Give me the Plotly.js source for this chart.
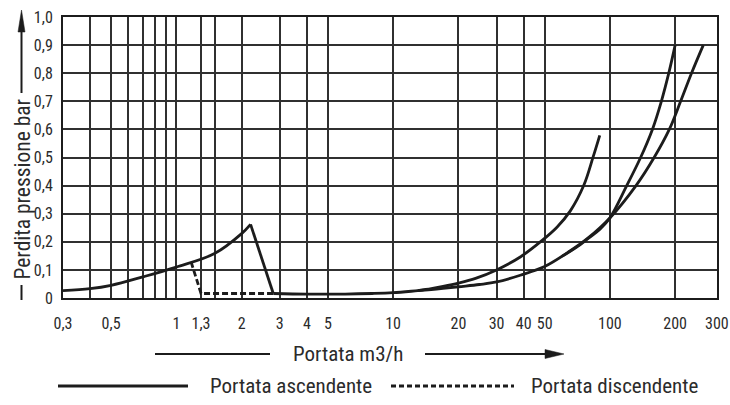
<!DOCTYPE html>
<html>
<head>
<meta charset="utf-8">
<script src="https://cdn.plot.ly/plotly-3.0.1.min.js"></script>
<style>
  html, body { margin: 0; padding: 0; background: #fff; }
  #chart { width: 730px; height: 405px; }
</style>
</head>
<body>
<div id="chart"></div>
<script>
// ---- data ----
// rising branch of the ascending flow curve
const ascLeftX = [0.3, 0.4, 0.5, 0.7, 1.0, 1.5, 2.0, 2.2];
const ascLeftY = [0.026, 0.033, 0.045, 0.075, 0.11, 0.158, 0.229, 0.262];
// sudden drop after the peak
const ascDropX = [2.2, 2.8];
const ascDropY = [0.262, 0.016];
// flat part continuing into the lower (longest) curve
const lowX = [2.8, 4, 6, 8, 10, 13, 15, 17, 20, 25, 30, 38.6, 50, 65.7, 78.6, 100, 132, 160, 188, 212, 238, 269.7];
const lowY = [0.016, 0.014, 0.014, 0.016, 0.019, 0.026, 0.030, 0.034, 0.040, 0.048, 0.057, 0.081, 0.112, 0.168, 0.211, 0.285, 0.40, 0.50, 0.60, 0.70, 0.80, 0.90];
// upper short curve (ends near 90 m3/h)
const upX = [13, 15, 17, 20, 24, 30, 38.6, 48.7, 57, 65.7, 75.8, 83.7, 89.8];
const upY = [0.026, 0.033, 0.041, 0.053, 0.070, 0.10, 0.146, 0.205, 0.252, 0.31, 0.401, 0.502, 0.579];
// steep curve ending at 200 m3/h
const steepX = [60, 70, 80, 90, 100, 119.6, 138.6, 157.1, 172.8, 186.9, 200];
const steepY = [0.148, 0.18, 0.214, 0.245, 0.285, 0.40, 0.50, 0.60, 0.70, 0.80, 0.90];
// descending flow (dashed)
const descX = [1.17, 1.3, 2.8];
const descY = [0.128, 0.016, 0.016];

// axis ticks / gridlines
const xTickVals = [0.3, 0.4, 0.5, 0.6, 0.7, 0.8, 0.9, 1, 1.3, 1.5, 2, 3, 4, 5, 10, 20, 30, 40, 50, 100, 200];
const xTickText = ["0,3", "", "0,5", "", "", "", "", "1", "1,3", "", "2", "3", "4", "5", "10", "20", "30", "40", "50", "100", "200"];
const xEndLabel = "300";
const xRangeEnd = 312;   // right border of the drawing (label "300" sits on it)
const yTickVals = [0, 0.1, 0.2, 0.3, 0.4, 0.5, 0.6, 0.7, 0.8, 0.9, 1.0];
const yTickText = ["0", "0,1", "0,2", "0,3", "0,4", "0,5", "0,6", "0,7", "0,8", "0,9", "1,0"];

const yTitle = "Perdita pressione bar";
const xTitle = "Portata m3/h";
const legendNames = ["Portata ascendente", "Portata discendente"];

// ---- styling ----
const INK = "#1c1c1c";
const GRID = "#303030";
const TXT = "#2b2b2b";
const FONT = "'Liberation Sans Narrow', 'Arial Narrow', 'Roboto Condensed', 'DejaVu Sans Condensed', sans-serif";
const LW = 2.8;

const L = 63, R = 13, T = 17, B = 107, W = 730, H = 405;
const PW = W - L - R, PH = H - T - B;
const px = v => (v - L) / PW;
const py = v => (H - B - v) / PH;

function solid(x, y, shape) {
  return { x: x, y: y, type: "scatter", mode: "lines", hoverinfo: "skip", showlegend: false,
           line: { color: INK, width: LW, shape: shape, smoothing: 1 } };
}

const traces = [
  solid(ascLeftX, ascLeftY, "spline"),
  solid(ascDropX, ascDropY, "linear"),
  solid(lowX, lowY, "spline"),
  solid(upX, upY, "spline"),
  solid(steepX, steepY, "spline"),
  { x: descX, y: descY, type: "scatter", mode: "lines", hoverinfo: "skip", showlegend: false,
    line: { color: INK, width: 2.8, dash: "6px,3px", shape: "linear" } }
];

function pline(x0, y0, x1, y1, w, dash) {
  return { type: "line", xref: "paper", yref: "paper", x0: px(x0), y0: py(y0), x1: px(x1), y1: py(y1),
           line: { color: INK, width: w, dash: dash || "solid" } };
}
function tri(pts) {
  const p = pts.map((q, i) => (i ? "L" : "M") + px(q[0]) + "," + py(q[1])).join(" ") + " Z";
  return { type: "path", xref: "paper", yref: "paper", path: p, fillcolor: INK, line: { color: INK, width: 0.5 } };
}

const shapes = [
  // y-title arrow
  pline(21.5, 285, 21.5, 300, 2),
  pline(21.5, 30, 21.5, 93, 2),
  tri([[21.5, 10], [18, 32], [25, 32]]),
  // x-title arrow
  pline(155, 354, 270, 354, 2),
  pline(425, 354, 548, 354, 2),
  tri([[564, 354], [545, 349.5], [545, 358.5]]),
  // legend samples
  pline(58, 386, 188, 386, 3),
  pline(391, 386, 514, 386, 3, "5px,3px")
];

function ann(text, x, y, xanchor, angle, size) {
  return { text: text, xref: "paper", yref: "paper", x: px(x), y: py(y), xanchor: xanchor, yanchor: "middle",
           showarrow: false, textangle: angle || 0, font: { family: FONT, size: size || 21, color: TXT } };
}

const annotations = [
  ann(yTitle, 21.5, 189, "center", -90, 21.5),
  ann(xTitle, 348, 354, "center"),
  ann(legendNames[0], 208, 386, "left"),
  ann(legendNames[1], 529, 386, "left"),
  ann(xEndLabel, 717, 323, "center", 0, 16)
];

const layout = {
  width: W, height: H,
  margin: { l: L, r: R, t: T, b: B, pad: 0 },
  paper_bgcolor: "#fff", plot_bgcolor: "#fff",
  font: { family: FONT, color: TXT, size: 16 },
  showlegend: false,
  xaxis: {
    type: "log", range: [Math.log10(0.3), Math.log10(xRangeEnd)],
    tickmode: "array", tickvals: xTickVals, ticktext: xTickText,
    showgrid: true, gridcolor: GRID, gridwidth: 2,
    showline: true, mirror: true, linecolor: INK, linewidth: 2,
    zeroline: false, ticks: "", ticklabelstandoff: 10,
    tickfont: { family: FONT, size: 16, color: TXT }, fixedrange: true
  },
  yaxis: {
    range: [0, 1],
    tickmode: "array", tickvals: yTickVals, ticktext: yTickText,
    showgrid: true, gridcolor: GRID, gridwidth: 2,
    showline: true, mirror: true, linecolor: INK, linewidth: 2,
    zeroline: false, ticks: "", ticklabelstandoff: 5,
    tickfont: { family: FONT, size: 16, color: TXT }, fixedrange: true
  },
  shapes: shapes,
  annotations: annotations
};

Plotly.newPlot("chart", traces, layout, { displayModeBar: false });
</script>
</body>
</html>
